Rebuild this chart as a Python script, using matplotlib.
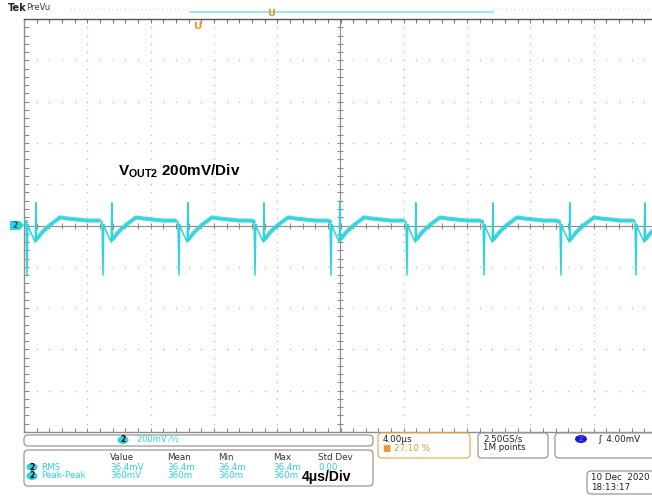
import matplotlib
matplotlib.use("Agg")
import matplotlib.pyplot as plt
from matplotlib.patches import FancyBboxPatch, Polygon, Ellipse
from matplotlib.transforms import IdentityTransform
import numpy as np

W, H = 652, 496

spike_t = [-19.81, -15.01, -10.21, -5.40, -0.60, 4.20, 9.07, 13.93, 18.67]
# one ripple period: offset after spike (us), level (mV)
shape_t = [-0.06, 0.0, 0.05, 0.13, 0.32, 0.52, 0.56, 0.60, 0.65, 0.95,
           1.26, 1.58, 2.09, 2.53, 3.16, 3.79, 4.55, 4.74]
shape_v = [19, -240, 5, -15, -48, -80, 110, -75, -63, -34,
           -10, 10, 39, 34, 29, 24, 24, 19]
BODY_FROM = 8   # index in the period where the noisy ripple body starts

meas_cols = ["Value", "Mean", "Min", "Max", "Std Dev"]
rms_vals = ["36.4mV", "36.4m", "36.4m", "36.4m", "0.00"]
pp_vals = ["360mV", "360m", "360m", "360m", ""]

CYAN = "#2fd3de"
GRID = "#b8b8b8"
FRAME = "#8c8c8c"

# build the trace, plus the ripple body pieces (drawn thicker like the noise band)
t_all, v_all = [-20.0], [19]
bodies = [([-20.0, spike_t[0] - 0.06], [19, 19])]
for i, s in enumerate(spike_t):
    nxt = spike_t[i + 1] - 0.06 if i + 1 < len(spike_t) else 99
    bt, bv = [], []
    for k, (dt, v) in enumerate(zip(shape_t, shape_v)):
        if s + dt < nxt:
            t_all.append(s + dt)
            v_all.append(v)
            if k >= BODY_FROM:
                bt.append(s + dt)
                bv.append(v)
    bodies.append((bt, bv))

fig = plt.figure(figsize=(W / 100, H / 100), dpi=100)
fig.patch.set_facecolor("white")
ax = fig.add_axes([24 / W, (H - 432) / H, 633 / W, 413 / H])
ax.set_xlim(-20, 20)
ax.set_ylim(-1000, 1000)
ax.set_xticks([])
ax.set_yticks([])
ax.spines["right"].set_visible(False)
for side in ["left", "top", "bottom"]:
    ax.spines[side].set_color(FRAME)
    ax.spines[side].set_linewidth(1.0)
ax.spines["top"].set_color("#555555")

# dotted graticule
minor_x = np.arange(-20, 20.01, 0.8)
minor_y = np.arange(-1000, 1000.1, 40)
for gx in range(-16, 21, 4):
    if gx != 0:
        ax.plot([gx] * len(minor_y), minor_y, ls="none", marker="s", ms=0.9,
                color=GRID, mew=0)
for gy in range(-800, 1000, 200):
    if gy != 0:
        ax.plot(minor_x, [gy] * len(minor_x), ls="none", marker="s", ms=0.9,
                color=GRID, mew=0)

# center cross with minor ticks
ax.axhline(0, color=FRAME, lw=0.8)
ax.axvline(0, color=FRAME, lw=0.8)
ax.plot(minor_x, [0] * len(minor_x), ls="none", marker="|", ms=4, color=FRAME, mew=0.8)
ax.plot([0] * len(minor_y), minor_y, ls="none", marker="_", ms=4, color=FRAME, mew=0.8)
ax.plot(minor_x, [995] * len(minor_x), ls="none", marker="|", ms=4, color="#777777", mew=0.8)
ax.plot(minor_x, [-995] * len(minor_x), ls="none", marker="|", ms=4, color=FRAME, mew=0.8)
ax.plot([-19.9] * len(minor_y), minor_y, ls="none", marker="_", ms=4, color=FRAME, mew=0.8)

# waveform
ax.plot(t_all, v_all, color=CYAN, lw=1.1, zorder=5)
for bt, bv in bodies:
    ax.plot(bt, bv, color=CYAN, lw=3.0, alpha=0.85, solid_capstyle="round",
            solid_joinstyle="round", zorder=5)

tr = IdentityTransform()


def P(x, y):
    return x, H - y


def box(x0, y0, x1, y1, ec="#999999", lw=0.9):
    p = FancyBboxPatch(P(x0, y1), x1 - x0, y1 - y0,
                       boxstyle="round,pad=0,rounding_size=4",
                       transform=tr, fc="white", ec=ec, lw=lw)
    fig.add_artist(p)


def txt(x, y, s, **kw):
    fig.text(x / W, 1 - y / H, s, **kw)


def badge(x, y, fc=CYAN, tc="black"):
    e = Ellipse(P(x, y), 11, 8, transform=tr, fc=fc, ec="none")
    fig.add_artist(e)
    txt(x, y, "2", fontsize=5.5, color=tc, ha="center", va="center",
        fontweight="bold")


# top bar
txt(8, 8, "Tek", fontsize=7, fontweight="bold", color="#222222", va="center")
txt(26, 8, "PreVu", fontsize=6, color="#3a3a5a", va="center")
fig.add_artist(plt.Line2D([70 / W, 190 / W], [1 - 9 / H] * 2, color="#dddddd",
                          lw=1, ls=(0, (1, 2))))
fig.add_artist(plt.Line2D([493 / W, 1], [1 - 9 / H] * 2, color="#dddddd",
                          lw=1, ls=(0, (1, 2))))
fig.add_artist(plt.Line2D([190 / W, 493 / W], [1 - 12 / H] * 2, color="#9fe6ec", lw=1.6))
txt(271, 13, "Ս", fontsize=7, color="#e89a2a", ha="center", va="center", fontweight="bold")
txt(197, 26, "Ս", fontsize=7.5, color="#e89a2a", ha="center", va="center", fontweight="bold")

# channel 2 ground marker
fig.add_artist(Polygon([P(10, 221), P(20, 221), P(24, 225.5), P(20, 230), P(10, 230)],
                       closed=True, transform=tr, fc=CYAN, ec="none"))
txt(15, 225.5, "2", fontsize=5.5, color="#0a5a60", ha="center", va="center", fontweight="bold")

# annotations
plt.rcParams["mathtext.fontset"] = "custom"
plt.rcParams["mathtext.bf"] = "Liberation Sans:bold"
plt.rcParams["mathtext.rm"] = "Liberation Sans:bold"
txt(118, 171, r"$\mathbf{V_{OUT2}}$ 200mV/Div", fontsize=11, fontweight="bold",
    family="Liberation Sans", va="center", color="black")

# bottom panel
box(24, 435, 373, 446)
badge(123, 440)
txt(137, 440, "200mV \u2044\u00bd", fontsize=6, color=CYAN, va="center")
box(24, 450, 373, 486)
col_x = [110, 167, 218, 273, 318]
for cx, c in zip(col_x, meas_cols):
    txt(cx, 458, c, fontsize=6.3, color="#333333", va="center")
badge(32, 467)
txt(41, 467, "RMS", fontsize=6.3, color=CYAN, va="center")
badge(32, 476)
txt(41, 476, "Peak-Peak", fontsize=6.3, color=CYAN, va="center")
for cx, a, b in zip(col_x, rms_vals, pp_vals):
    txt(cx, 467, a, fontsize=6.3, color=CYAN, va="center")
    txt(cx, 476, b, fontsize=6.3, color=CYAN, va="center")
fig.add_artist(FancyBboxPatch(P(301, 485), 68, 15, boxstyle="square,pad=0",
                              transform=tr, fc="white", ec="none"))
txt(302, 477, "4\u03bcs/Div", fontsize=10, fontweight="bold", family="Liberation Sans",
    va="center", color="black")

box(378, 433, 470, 458, ec="#e8b060")
txt(383, 439, "4.00\u03bcs", fontsize=6.3, color="#222222", va="center")
txt(383, 448, "\u25a0 27.10 %", fontsize=6.3, color="#e89a2a", va="center")
box(478, 433, 548, 458)
txt(483, 439, "2.50GS/s", fontsize=6.3, color="#222222", va="center")
txt(483, 448, "1M points", fontsize=6.3, color="#222222", va="center")
box(555, 433, 680, 458)
fig.add_artist(Ellipse(P(581, 439), 12, 8, transform=tr, fc="#1a1ad0", ec="none"))
txt(581, 439, "2", fontsize=5, color="#8080ff", ha="center", va="center")
txt(598, 439, "\u0283  4.00mV", fontsize=6.3, color="#222222", va="center")
box(587, 471, 680, 494)
txt(591, 477, "10 Dec  2020", fontsize=6.3, color="#222222", va="center")
txt(591, 487, "18:13:17", fontsize=6.3, color="#222222", va="center")

fig.savefig("out.png", dpi=100)
